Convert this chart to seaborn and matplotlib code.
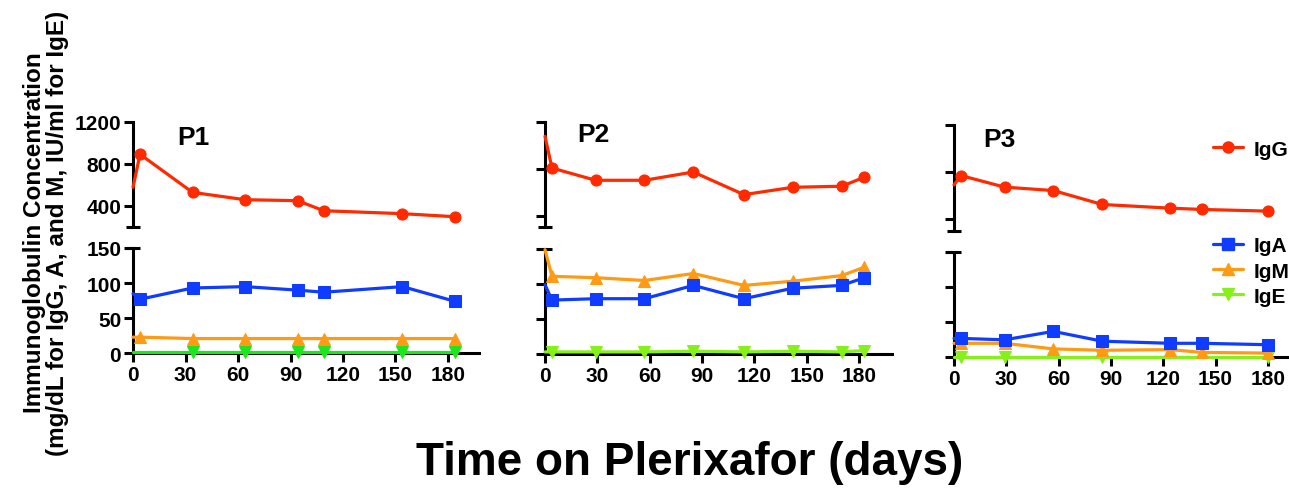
import matplotlib
matplotlib.use("Agg")
import matplotlib.pyplot as plt
from matplotlib.lines import Line2D
import seaborn as sns
import pandas as pd

# ---------------- data ----------------
series_names = ["IgG", "IgA", "IgM", "IgE"]
panel_titles = ["P1", "P2", "P3"]
x_ticks = [0, 30, 60, 90, 120, 150, 180]
upper_ticks = [400, 800, 1200]
lower_ticks = [0, 50, 100, 150]

p1_days = [0, 4, 34, 64, 94, 109, 154, 184]
p1_igg = [575, 890, 527, 457, 448, 352, 324, 295]
p1_iga = [85, 77, 93, 95, 90, 87, 95, 74]
p1_igm = [23, 23, 21, 21, 21, 21, 21, 21]
p1_ige_days = [0, 34, 64, 94, 109, 154, 184]
p1_ige = [2, 2, 2, 2, 2, 2, 2]

p2_days = [0, 4, 29, 57, 85, 114, 142, 170, 183]
p2_igg = [1080, 808, 703, 703, 774, 580, 643, 652, 729]
p2_iga = [99, 77, 79, 79, 98, 79, 94, 98, 109]
p2_igm = [149, 111, 109, 105, 115, 98, 104, 112, 124]
p2_ige_days = [0, 4, 29, 57, 85, 114, 142, 170, 183]
p2_ige = [3, 3, 3, 3, 4, 3, 4, 3, 5]

p3_days = [0, 4, 29, 57, 85, 124, 142, 180]
p3_igg = [693, 772, 674, 645, 527, 496, 485, 471]
p3_iga = [27, 27, 25, 37, 23, 20, 20, 18]
p3_igm = [20, 20, 20, 12, 10, 11, 7, 6]
p3_ige_days = [0, 4, 29, 85, 180]
p3_ige = [1, 1, 1, 1, 1]

# ---------------- style ----------------
sns.set_theme(style="ticks")
plt.rcParams["font.family"] = ["Liberation Sans", "DejaVu Sans"]
plt.rcParams["font.weight"] = "bold"
for key in ["text.color", "axes.labelcolor", "xtick.color", "ytick.color", "axes.edgecolor"]:
    plt.rcParams[key] = "black"

RED = "#FF2A00"
BLUE = "#0F3CFF"
ORANGE = "#FF9A14"
GREEN_P1 = "#1EE61E"
GREEN = "#86F01A"
LW = 2.3
TICK_FS = 15

W, H = 1289, 489
fig = plt.figure(figsize=(W / 100, H / 100), dpi=100)


def frac(left, right, top, bottom):
    return [left / W, 1 - bottom / H, (right - left) / W, (bottom - top) / H]


panels = [
    dict(days=p1_days, igg=p1_igg, iga=p1_iga, igm=p1_igm, ige_days=p1_ige_days, ige=p1_ige,
         x0=133, pxday=1.75, xmax=198, ut=122.7, ub=227.7, ulim=(200, 1200),
         lt=249, lb=354.3, green=GREEN_P1, labels=True, title_xy=(177, 138)),
    dict(days=p2_days, igg=p2_igg, iga=p2_iga, igm=p2_igm, ige_days=p2_ige_days, ige=p2_ige,
         x0=545, pxday=1.745, xmax=199, ut=123.3, ub=228.3, ulim=(300, 1200),
         lt=250, lb=355, green=GREEN, labels=False, title_xy=(577, 135)),
    dict(days=p3_days, igg=p3_igg, iga=p3_iga, igm=p3_igm, ige_days=p3_ige_days, ige=p3_ige,
         x0=954, pxday=1.744, xmax=200, ut=126, ub=232.3, ulim=(300, 1200),
         lt=253.3, lb=358.3, green=GREEN, labels=False, title_xy=(983, 140)),
]


def style_axis(ax, upper, labels):
    for s in ["top", "right"]:
        ax.spines[s].set_visible(False)
    ax.spines["left"].set_linewidth(2.2)
    ax.spines["bottom"].set_linewidth(2.2)
    ax.tick_params(axis="both", length=6.5, width=2.2, color="black",
                   labelsize=TICK_FS, pad=2, labelcolor="black")
    ax.set_facecolor("none")
    ax.set_xlabel("")
    ax.set_ylabel("")
    if upper:
        ax.spines["bottom"].set_visible(False)
        ax.tick_params(axis="x", bottom=False, labelbottom=False)
    if not labels:
        ax.tick_params(axis="y", labelleft=False)
    for lab in ax.get_xticklabels() + ax.get_yticklabels():
        lab.set_fontweight("bold")


for i, p in enumerate(panels):
    x_right = p["x0"] + p["xmax"] * p["pxday"]
    ax_u = fig.add_axes(frac(p["x0"], x_right, p["ut"], p["ub"]))
    ax_l = fig.add_axes(frac(p["x0"], x_right, p["lt"], p["lb"]))

    df = pd.DataFrame({"day": p["days"], "IgG": p["igg"], "IgA": p["iga"], "IgM": p["igm"]})
    dfe = pd.DataFrame({"day": p["ige_days"], "IgE": p["ige"]})

    common = dict(lw=LW, ms=8, markevery=slice(1, None), clip_on=False,
                  errorbar=None, zorder=3)
    sns.lineplot(data=df, x="day", y="IgG", ax=ax_u, color=RED, marker="o", mec=RED, **common)
    sns.lineplot(data=dfe, x="day", y="IgE", ax=ax_l, color=p["green"], marker="v",
                 mec=p["green"], **common)
    sns.lineplot(data=df, x="day", y="IgM", ax=ax_l, color=ORANGE, marker="^", mec=ORANGE, **common)
    sns.lineplot(data=df, x="day", y="IgA", ax=ax_l, color=BLUE, marker="s", mec=BLUE, **common)

    ax_u.set_xlim(0, p["xmax"])
    ax_l.set_xlim(0, p["xmax"])
    ax_u.set_ylim(*p["ulim"])
    ax_l.set_ylim(0, 150)
    ax_u.set_yticks(upper_ticks)
    ax_l.set_yticks(lower_ticks)
    ax_l.set_xticks(x_ticks)
    style_axis(ax_u, True, p["labels"])
    style_axis(ax_l, False, p["labels"])
    # axis-break caps
    ax_u.plot([0], [0], marker="_", ms=10, mew=2.2, color="black",
              transform=ax_u.transAxes, clip_on=False)
    ax_l.plot([0], [1], marker="_", ms=10, mew=2.2, color="black",
              transform=ax_l.transAxes, clip_on=False)

    fig.text(p["title_xy"][0] / W, 1 - p["title_xy"][1] / H, panel_titles[i],
             fontsize=19, fontweight="bold", ha="left", va="center")

# legends
def handle(color, marker):
    return Line2D([], [], color=color, lw=LW, marker=marker, ms=8, mec=color)

fig.legend(handles=[handle(RED, "o")], labels=["IgG"], loc="center left",
           bbox_to_anchor=(1213 / W, 1 - 150 / H), frameon=False,
           handlelength=1.45, handletextpad=0.5, borderpad=0, borderaxespad=0,
           numpoints=1, prop=dict(weight="bold", size=TICK_FS))
fig.legend(handles=[handle(BLUE, "s"), handle(ORANGE, "^"), handle(GREEN, "v")],
           labels=["IgA", "IgM", "IgE"], loc="center left",
           bbox_to_anchor=(1213 / W, 1 - 272 / H), frameon=False,
           handlelength=1.45, handletextpad=0.5, borderpad=0, borderaxespad=0,
           labelspacing=0.3, numpoints=1, prop=dict(weight="bold", size=TICK_FS))

fig.text(46 / W, 1 - 233 / H,
         "Immunoglobulin Concentration\n(mg/dL for IgG, A, and M, IU/ml for IgE)",
         rotation=90, ha="center", va="center", fontsize=17.5, fontweight="bold",
         linespacing=1.0, multialignment="center")
fig.text(690 / W, 1 - 463 / H, "Time on Plerixafor (days)", ha="center", va="center",
         fontsize=33, fontweight="bold")

fig.savefig("out.png", dpi=100)
